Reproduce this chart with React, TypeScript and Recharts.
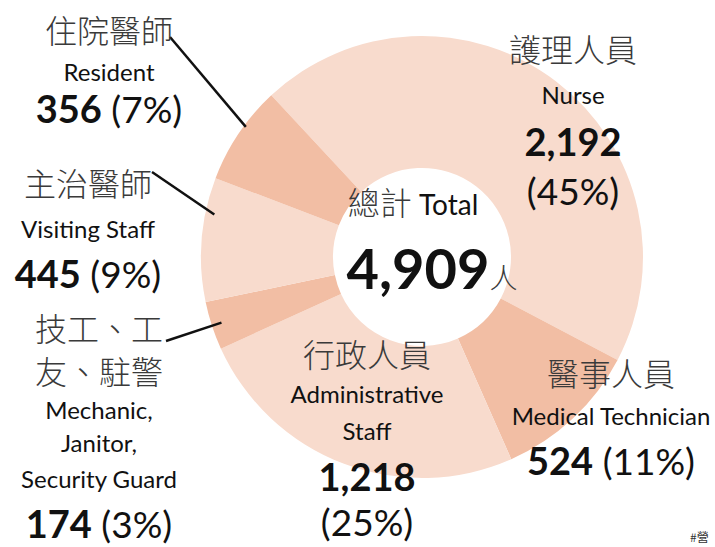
import { PieChart, Pie, Cell } from 'recharts'

document.body.style.margin = '0'

const namesZh = ['護理人員', '醫事人員', '行政人員', '技工、工\n友、駐警', '主治醫師', '住院醫師']
const namesEn = ['Nurse', 'Medical Technician', 'Administrative\nStaff', 'Mechanic,\nJanitor,\nSecurity Guard', 'Visiting Staff', 'Resident']
const counts = [2192, 524, 1218, 174, 445, 356]
const percents = [45, 11, 25, 3, 9, 7]
const totalLabelZh = '總計'
const totalLabelEn = 'Total'
const unit = '人'
const footnote = '#營'

const colors = ['#F8DBCD', '#F2BEA4', '#F8DBCD', '#F2BEA4', '#F8DBCD', '#F2BEA4']

const data = counts.map((value, i) => ({ name: namesEn[i], value }))

const EN = 'Lato, "Noto Sans CJK TC", sans-serif'
const ZH = '"Noto Sans CJK TC", sans-serif'

// text placement for each slice label (center x, baselines)
type Layout = {
  x: number
  zh: number[]
  en: number[]
  num: number
  pct?: number
  lead?: { x: number; y: number; da: number; r: number }
}
const layout: Layout[] = [
  { x: 573, zh: [62], en: [104], num: 156, pct: 205 },
  { x: 611, zh: [386], en: [425], num: 475 },
  { x: 367, zh: [367], en: [403, 440], num: 491, pct: 536 },
  { x: 99, zh: [341, 384], en: [419, 452, 488], num: 538, lead: { x: 166, y: 341, da: 0, r: 211 } },
  { x: 88, zh: [196], en: [238], num: 288, lead: { x: 152, y: 172, da: -7, r: 212 } },
  { x: 109, zh: [43], en: [81], num: 123, lead: { x: 170, y: 37, da: -2.5, r: 219 } },
]

const fmt = (n: number) => n.toLocaleString('en-US')

const renderLabel = (props: any) => {
  const { index, cx, cy, midAngle } = props
  const l = layout[index]
  const zh = namesZh[index].split('\n')
  const en = namesEn[index].split('\n')
  let line = null
  if (l.lead) {
    const a = ((midAngle + l.lead.da) * Math.PI) / 180
    const ex = cx + l.lead.r * Math.cos(a)
    const ey = cy - l.lead.r * Math.sin(a)
    line = <line x1={l.lead.x} y1={l.lead.y} x2={ex} y2={ey} stroke="#111" strokeWidth={2.5} />
  }
  return (
    <g key={`lbl-${index}`}>
      {line}
      {zh.map((t, i) => (
        <text key={`zh${i}`} x={l.x} y={l.zh[i]} textAnchor="middle" fontFamily={ZH} fontSize={32} fill="#3a3a3a" fontWeight={300}>
          {t}
        </text>
      ))}
      {en.map((t, i) => (
        <text key={`en${i}`} x={l.x} y={l.en[i]} textAnchor="middle" fontFamily={EN} fontSize={24} fill="#111">
          {t}
        </text>
      ))}
      {l.pct ? (
        <>
          <text x={l.x} y={l.num} textAnchor="middle" fontFamily={EN} fontSize={38} fontWeight={700} fill="#111">
            {fmt(counts[index])}
          </text>
          <text x={l.x} y={l.pct} textAnchor="middle" fontFamily={EN} fontSize={37} fill="#111">
            ({percents[index]}%)
          </text>
        </>
      ) : (
        <text x={l.x} y={l.num} textAnchor="middle" fill="#111">
          <tspan fontFamily={EN} fontSize={38} fontWeight={700}>{fmt(counts[index])}</tspan>
          <tspan fontFamily={EN} fontSize={37}>{` (${percents[index]}%)`}</tspan>
        </text>
      )}
      {index === 0 && (
        <>
          <text x={cx - 9} y={cy - 42} textAnchor="middle" fill="#111">
            <tspan fontFamily={ZH} fontSize={32} fill="#3a3a3a" fontWeight={300}>{totalLabelZh}</tspan>
            <tspan fontFamily={EN} fontSize={28}>{` ${totalLabelEn}`}</tspan>
          </text>
          <text x={cx + 10} y={cy + 32} textAnchor="middle" fill="#111">
            <tspan fontFamily={EN} fontSize={56} fontWeight={700}>{fmt(counts.reduce((s, v) => s + v, 0))}</tspan>
            <tspan fontFamily={ZH} fontSize={28} fill="#3a3a3a" fontWeight={300}>{unit}</tspan>
          </text>
        </>
      )}
    </g>
  )
}

export default function App() {
  return (
    <div style={{ width: 715, height: 547, background: '#fff', position: 'relative' }}>
      <PieChart width={715} height={547} margin={{ top: 0, right: 0, bottom: 0, left: 0 }}>
        <Pie
          data={data}
          dataKey="value"
          cx={422}
          cy={257}
          innerRadius={89}
          outerRadius={221}
          startAngle={133}
          endAngle={-227}
          stroke="none"
          label={renderLabel}
          labelLine={false}
          isAnimationActive={false}
        >
          {data.map((d, i) => (
            <Cell key={d.name} fill={colors[i]} />
          ))}
        </Pie>
      </PieChart>
      <div style={{ position: 'absolute', left: 690, top: 530, fontFamily: ZH, fontSize: 12, lineHeight: '14px', color: '#333', whiteSpace: 'nowrap' }}>
        {footnote}
      </div>
    </div>
  )
}
